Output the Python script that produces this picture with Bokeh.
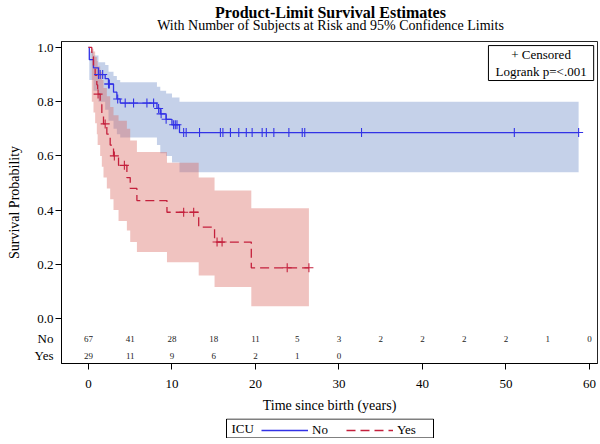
import numpy as np
from bokeh.plotting import figure
from bokeh.layouts import column
from bokeh.models import (Range1d, FixedTicker, Legend, LegendItem, PrintfTickFormatter)
from bokeh.core.properties import value
from bokeh.embed import file_html
from bokeh.resources import INLINE

# ---------------- data ----------------
times_no = [0, 0.1, 0.6, 1.2, 2.0, 2.4, 3.0, 3.4, 3.8, 8.2, 8.6, 9.3, 10.0, 10.9]
surv_no = [1.0, 0.955, 0.925, 0.90, 0.885, 0.865, 0.835, 0.81, 0.795, 0.775, 0.755, 0.735, 0.715, 0.686]
lo_no = [1.0, 0.88, 0.84, 0.80, 0.77, 0.73, 0.70, 0.68, 0.668, 0.64, 0.61, 0.60, 0.576, 0.54]
hi_no = [1.0, 0.985, 0.97, 0.945, 0.935, 0.91, 0.895, 0.88, 0.872, 0.855, 0.84, 0.83, 0.815, 0.80]
end_no = 58.7
cens_no = [1.2, 1.4, 1.7, 2.4, 2.5, 3.5, 4.4, 5.4, 7.0, 7.8, 8.4, 8.7, 9.3, 10.2, 10.4, 10.6,
           11.4, 11.7, 13.3, 15.8, 16.1, 17.0, 18.0, 18.9, 19.6, 20.8, 21.3, 22.2, 24.0,
           25.6, 25.9, 32.7, 51.0, 58.7]

times_yes = [0, 0.4, 0.6, 0.8, 1.0, 1.1, 1.4, 1.6, 1.8, 2.2, 2.6, 3.0, 3.6, 4.6, 5.0, 5.8, 9.4, 13.2, 15.1, 19.5]
surv_yes = [1.0, 0.965, 0.93, 0.897, 0.862, 0.828, 0.79, 0.755, 0.718, 0.68, 0.64, 0.60, 0.565,
            0.52, 0.48, 0.435, 0.392, 0.337, 0.282, 0.187]
lo_yes = [1.0, 0.80, 0.76, 0.72, 0.68, 0.64, 0.60, 0.56, 0.52, 0.48, 0.44, 0.40, 0.36, 0.325,
          0.282, 0.245, 0.208, 0.159, 0.116, 0.045]
hi_yes = [1.0, 0.995, 0.985, 0.965, 0.95, 0.93, 0.91, 0.88, 0.85, 0.82, 0.78, 0.75, 0.73, 0.70,
          0.657, 0.614, 0.575, 0.52, 0.472, 0.407]
end_yes = 26.4
cens_yes = [1.15, 2.0, 3.1, 4.3, 11.4, 12.6, 15.4, 16.0, 23.8, 26.4]

risk_times_no = [0, 5, 10, 15, 20, 25, 30, 35, 40, 45, 50, 55, 60]
risk_no = [67, 41, 28, 18, 11, 5, 3, 2, 2, 2, 2, 1, 0]
risk_times_yes = [0, 5, 10, 15, 20, 25, 30]
risk_yes = [29, 11, 9, 6, 2, 1, 0]
risk_rows = {"No": -0.074, "Yes": -0.137}

x_ticks = [0, 10, 20, 30, 40, 50, 60]
y_ticks = [0.0, 0.2, 0.4, 0.6, 0.8, 1.0]

title_text = "Product-Limit Survival Estimates"
subtitle_text = "With Number of Subjects at Risk and 95% Confidence Limits"
inset_lines = ["+ Censored", "Logrank p=<.001"]

# ---------------- helpers ----------------
def stepify(t, v, end):
    t_next = list(t[1:]) + [end]
    xs, ys = [], []
    for i, vi in enumerate(v):
        xs += [t[i], t_next[i]]
        ys += [vi, vi]
    return xs, ys

def at(t, v, q):
    idx = np.searchsorted(np.array(t), np.array(q), side="right") - 1
    return [v[i] for i in idx]

FONT = "Liberation Serif"
BLUE_LINE = "#3232e6"
RED_LINE = "#c4203c"
BLUE_FILL = "#6f8bc9"
RED_FILL = "#da6962"
W = 600
LEFT = 61
RIGHT = 3
FW = W - LEFT - RIGHT   # frame width shared by all strips

def bare(fig):
    fig.xaxis.visible = False
    fig.yaxis.visible = False
    fig.xgrid.visible = False
    fig.ygrid.visible = False
    fig.outline_line_color = None
    return fig

# ---------------- title strip ----------------
tf = bare(figure(width=W, height=36, output_backend="svg", toolbar_location=None,
                 x_range=Range1d(0, FW), y_range=Range1d(0, 36),
                 min_border_left=LEFT, min_border_right=RIGHT, min_border_top=0, min_border_bottom=0))
tf.text([269], [24], text=[title_text], text_font=value(FONT), text_font_size="16px",
        text_font_style="bold", text_align="center", text_baseline="middle", text_color="black")
tf.text([269], [11], text=[subtitle_text], text_font=value(FONT), text_font_size="14px",
        text_align="center", text_baseline="middle", text_color="black")

# ---------------- main plot ----------------
p = figure(width=W, height=379, output_backend="svg", toolbar_location=None,
           x_range=Range1d(-3.23, 60.96), y_range=Range1d(-0.166, 1.022),
           min_border_left=LEFT, min_border_right=RIGHT, min_border_top=5, min_border_bottom=52)
p.xgrid.visible = False
p.ygrid.visible = False
p.outline_line_color = "black"
p.outline_line_width = 1
p.outline_line_alpha = 0.85

xb, lb = stepify(times_no, lo_no, end_no)
_, hb = stepify(times_no, hi_no, end_no)
p.varea(x=xb, y1=lb, y2=hb, fill_color=BLUE_FILL, fill_alpha=0.4)
xr, lr = stepify(times_yes, lo_yes, end_yes)
_, hr = stepify(times_yes, hi_yes, end_yes)
p.varea(x=xr, y1=lr, y2=hr, fill_color=RED_FILL, fill_alpha=0.4)

xs_n, ys_n = stepify(times_no, surv_no, end_no)
p.line(xs_n, ys_n, line_color=BLUE_LINE, line_width=1.3)
xs_y, ys_y = stepify(times_yes, surv_yes, end_yes)
p.line(xs_y, ys_y, line_color=RED_LINE, line_width=1.3, line_dash="9 5")

p.scatter(cens_no, at(times_no, surv_no, cens_no), marker="cross", size=9,
          line_color=BLUE_LINE, line_width=1.1)
p.scatter(cens_yes, at(times_yes, surv_yes, cens_yes), marker="cross", size=9,
          line_color=RED_LINE, line_width=1.1)

# at-risk table
p.text(risk_times_no, [risk_rows["No"]] * len(risk_no), text=[str(v) for v in risk_no],
       text_font=value(FONT), text_font_size="9px", text_align="center",
       text_baseline="middle", text_color="#222222")
p.text(risk_times_yes, [risk_rows["Yes"]] * len(risk_yes), text=[str(v) for v in risk_yes],
       text_font=value(FONT), text_font_size="9px", text_align="center",
       text_baseline="middle", text_color="#222222")

# inset box (top right)
p.quad(left=[47.9], right=[60.5], bottom=[0.878], top=[1.007], fill_color=None,
       line_color="black", line_width=1)
p.text([54.2, 54.2], [0.975, 0.912], text=inset_lines, text_font=value(FONT),
       text_font_size="13px", text_align="center", text_baseline="middle", text_color="black")

# axes
p.xaxis.ticker = FixedTicker(ticks=x_ticks)
p.yaxis.ticker = FixedTicker(ticks=list(risk_rows.values()) + y_ticks, minor_ticks=y_ticks)
p.yaxis.formatter = PrintfTickFormatter(format="%.1f")
p.yaxis.major_label_overrides = {v: k for k, v in risk_rows.items()}
for ax in (p.xaxis[0], p.yaxis[0]):
    ax.major_label_text_font = FONT
    ax.major_label_text_font_size = "13px"
    ax.major_label_text_color = "black"
    ax.axis_label_text_font = FONT
    ax.axis_label_text_font_size = "14px"
    ax.axis_label_text_font_style = "normal"
    ax.axis_label_text_color = "black"
    ax.axis_line_color = "black"
p.xaxis.major_tick_in = 0
p.xaxis.major_tick_out = 6
p.xaxis.minor_tick_line_color = None
p.xaxis.major_label_standoff = 10
p.xaxis.axis_label_standoff = 7
p.yaxis.major_tick_in = 0
p.yaxis.major_tick_out = 0
p.yaxis.minor_tick_in = 0
p.yaxis.minor_tick_out = 6
p.yaxis.minor_tick_line_color = "black"
p.yaxis.major_label_standoff = 2
p.yaxis.axis_label_standoff = 10
p.xaxis.axis_label = "Time since birth (years)"
p.yaxis.axis_label = "Survival Probability"

# ---------------- legend strip ----------------
lf = bare(figure(width=W, height=23, output_backend="svg", toolbar_location=None,
                 x_range=Range1d(0, FW), y_range=Range1d(0, 20),
                 min_border_left=LEFT, min_border_right=RIGHT, min_border_top=3, min_border_bottom=0))
lf.quad(left=[165], right=[372], bottom=[0.5], top=[19.5], fill_color=None,
        line_color="black", line_width=1)
lf.text([170], [10], text=["ICU"], text_font=value(FONT), text_font_size="13px",
        text_align="left", text_baseline="middle", text_color="black")
k_no = lf.line([-10, -9], [-10, -10], line_color=BLUE_LINE, line_width=1.3)
k_yes = lf.line([-10, -9], [-10, -10], line_color=RED_LINE, line_width=1.3, line_dash="9 5")
leg = Legend(items=[LegendItem(label="No", renderers=[k_no]),
                    LegendItem(label="Yes", renderers=[k_yes])],
             orientation="horizontal", location=(200, 0),
             border_line_color=None, background_fill_alpha=0,
             label_text_font=FONT, label_text_font_size="13px", label_text_color="black",
             glyph_width=47, glyph_height=12, label_standoff=4, spacing=14,
             padding=2, margin=0)
lf.add_layout(leg)

layout = column(tf, p, lf, spacing=0)
open("out.html", "w").write(file_html(layout, INLINE))
